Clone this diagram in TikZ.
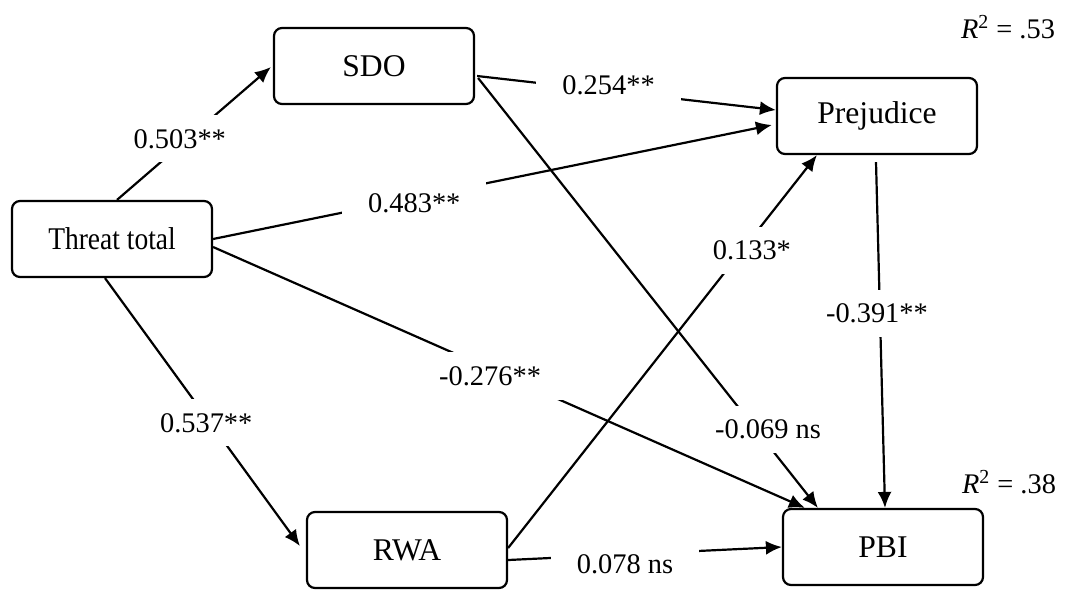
\documentclass[tikz,border=0pt]{standalone}
\usepackage{fontspec}
\setmainfont{Liberation Serif}
\usetikzlibrary{arrows.meta,calc}
\begin{document}
\begin{tikzpicture}[x=0.5pt,y=-0.5pt,line width=1.1pt,
  varbox/.style={draw,rounded corners=4pt,minimum width=100pt,minimum height=38pt,font=\fontsize{15.8}{18}\selectfont},
  effect/.style={-{Latex[length=8pt,width=7pt]}},
  coef/.style={fill=white,inner xsep=13pt,inner ysep=7pt,font=\fontsize{14.2}{16}\selectfont}]
\useasboundingbox (0,0) rectangle (1079,590);
\node[varbox] (threat) at (112,239) {\scalebox{0.87}[1]{Threat total}};
\node[varbox] (sdo) at (374,66) {SDO};
\node[varbox] (prej) at (877,116) {Prejudice};
\node[varbox] (rwa) at (407,550) {RWA};
\node[varbox] (pbi) at (883,547) {PBI};
\node[font=\fontsize{14.2}{16}\selectfont] (r2prej) at (1008,27) {\textit{R}\textsuperscript{2} = .53};
\node[font=\fontsize{14.2}{16}\selectfont] (r2pbi) at (1009,482) {\textit{R}\textsuperscript{2} = .38};
\draw[effect] ($(threat.north)+(5,0)$) -- node[coef,pos=0.46,xshift=-4pt] {0.503**} ($(sdo.west)+(-2,1)$);
\draw[effect] (threat.east) -- node[coef,pos=0.36,yshift=-2.5pt] {0.483**} ($(prej.west)+(-4,9)$);
\draw[effect] ($(threat.east)+(0,8)$) -- node[coef,pos=0.468,yshift=-3.5pt] {-0.276**} ($(pbi.north west)+(23,0)$);
\draw[effect] ($(threat.south)+(-7,0)$) -- node[coef,pos=0.54,xshift=-2pt] {0.537**} ($(rwa.west)+(-6,-4)$);
\draw[effect] ($(sdo.east)+(2,10)$) -- node[coef,pos=0.44,yshift=3pt] {0.254**} ($(prej.west)+(0,-6)$);
\draw[effect] ($(sdo.east)+(3,12)$) -- node[coef,pos=0.818,xshift=6pt] {-0.069 ns} ($(pbi.north west)+(36,0)$);
\draw[effect] ($(rwa.east)+(0,-2)$) -- node[coef,pos=0.757,xshift=5pt] {0.133*} ($(prej.south west)+(41,0)$);
\draw[effect] ($(rwa.east)+(0,10)$) -- node[coef,pos=0.427,yshift=-5pt] {0.078 ns} (pbi.west);
\draw[effect] ($(prej.south)+(-1,7)$) -- node[coef,pos=0.437,xshift=-1.5pt] {-0.391**} ($(pbi.north)+(2,0)$);
\end{tikzpicture}
\end{document}
